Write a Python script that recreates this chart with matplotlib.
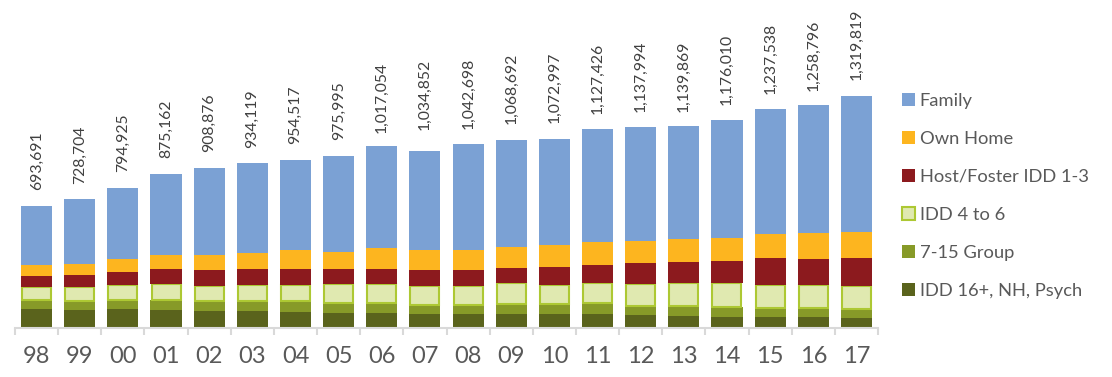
import numpy as np
import matplotlib.pyplot as plt
from matplotlib.patches import Patch

# values in thousands
years = ['98', '99', '00', '01', '02', '03', '04', '05', '06', '07',
         '08', '09', '10', '11', '12', '13', '14', '15', '16', '17']
idd16 = [108, 104, 108, 102, 97, 97, 91, 85, 85, 80,
         80, 80, 80, 80, 74, 68, 63, 63, 63, 57]
group715 = [51, 51, 53, 57, 57, 57, 63, 57, 57, 51,
            51, 57, 57, 63, 51, 57, 57, 51, 51, 51]
idd46 = [76, 80, 84, 91, 85, 91, 91, 108, 108, 108,
         108, 119, 108, 114, 125, 131, 137, 131, 131, 131]
host = [61, 67, 74, 85, 91, 91, 91, 85, 85, 91,
        91, 85, 102, 102, 119, 119, 125, 154, 148, 159]
own_home = [63, 64, 74, 80, 85, 91, 110, 98, 121, 115,
            115, 119, 125, 131, 125, 131, 131, 137, 148, 148]
family = [336, 366, 404, 461, 495, 512, 510, 544, 578, 561,
          601, 609, 603, 643, 648, 643, 671, 711, 728, 774]
totals = [693691, 728704, 794925, 875162, 908876, 934119, 954517, 975995,
          1017054, 1034852, 1042698, 1068692, 1072997, 1127426, 1137994,
          1139869, 1176010, 1237538, 1258796, 1319819]

series = [
    ('IDD 16+, NH, Psych', idd16, '#5a631c', None),
    ('7-15 Group', group715, '#879a28', None),
    ('IDD 4 to 6', idd46, '#e0e9b0', '#adc833'),
    ('Host/Foster IDD 1-3', host, '#8c1a1e', None),
    ('Own Home', own_home, '#fdb51f', None),
    ('Family', family, '#7ba1d4', None),
]

plt.rcParams['font.family'] = ['Lato', 'DejaVu Sans']

fig = plt.figure(figsize=(11.12, 3.77), dpi=100)
ax = fig.add_axes([15 / 1112, 49 / 377, 863 / 1112, 318 / 377])

x = np.arange(len(years))
bottom = np.zeros(len(years))
handles = []
for name, vals, color, edge in series:
    vals = np.array(vals, dtype=float)
    if edge:
        ax.bar(x, vals, 0.672, bottom=bottom, color=color,
               edgecolor=edge, linewidth=1.5)
        handles.append(Patch(facecolor=color, edgecolor=edge, linewidth=1.5, label=name))
    else:
        ax.bar(x, vals, 0.72, bottom=bottom, color=color, linewidth=0)
        handles.append(Patch(facecolor=color, label=name))
    bottom += vals

for i, t in enumerate(totals):
    ax.annotate(f'{t:,}', xy=(i, t / 1000), xytext=(0, 11.5),
                textcoords='offset points', rotation=90,
                ha='center', va='bottom', fontsize=11.3, color='#404040')

ax.set_xlim(-0.5, len(years) - 0.5)
ax.set_ylim(0, 318 * 5.688)
ax.set_xticks(x)
ax.set_xticklabels(years)
ax.set_xticks(np.arange(-0.5, len(years)), minor=True)
ax.tick_params(axis='x', which='major', length=0, pad=13,
               labelsize=17, labelcolor='#595959')
ax.tick_params(axis='x', which='minor', length=5, width=1.5,
               color='#d9d9d9', direction='out')
ax.set_yticks([])
for s in ['left', 'right', 'top']:
    ax.spines[s].set_visible(False)
ax.spines['bottom'].set_color('#d9d9d9')
ax.spines['bottom'].set_linewidth(1.5)

fig.legend(handles=handles[::-1], loc='center left',
           bbox_to_anchor=(902 / 1112, 1 - 196 / 377),
           frameon=False, fontsize=13.2, labelcolor='#595959',
           handlelength=0.72, handleheight=0.72, handletextpad=0.25,
           labelspacing=1.2, borderpad=0, borderaxespad=0)

fig.savefig('out.png', dpi=100)
